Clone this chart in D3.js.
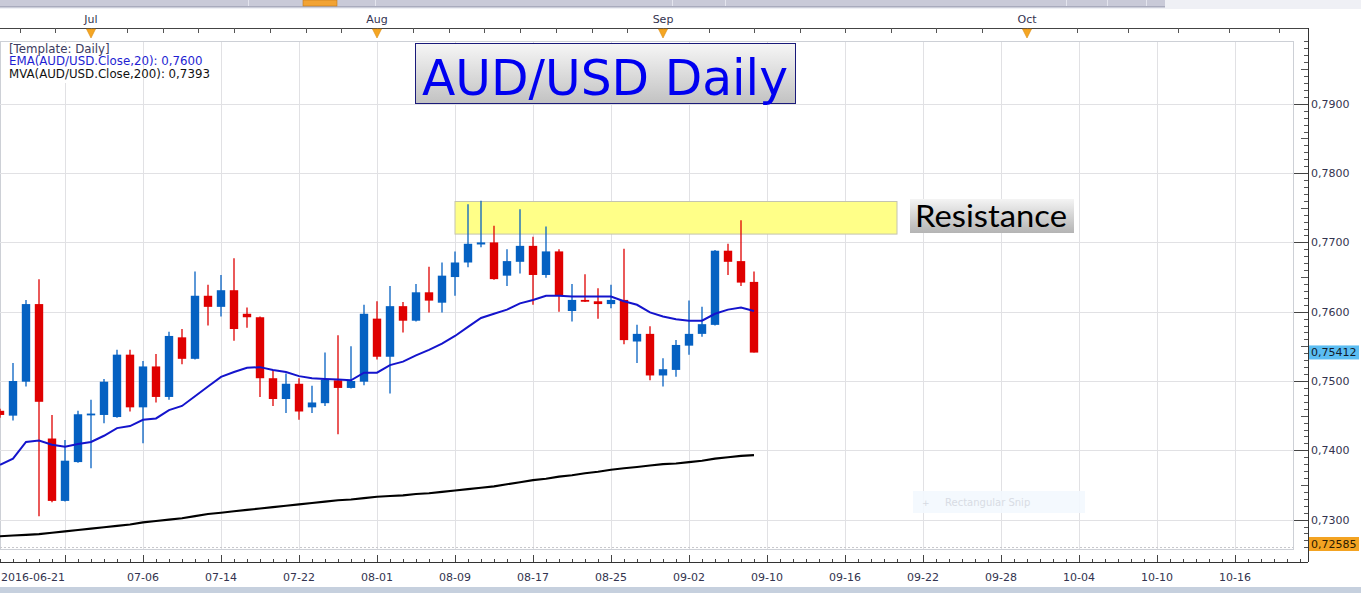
<!DOCTYPE html>
<html><head><meta charset="utf-8">
<script src="https://cdn.jsdelivr.net/npm/d3@7/dist/d3.min.js"></script>
<style>html,body{margin:0;padding:0;background:#fff;overflow:hidden}svg{display:block}</style>
</head><body>
<svg id="c" width="1361" height="593"></svg>
<script>
// ---------- DATA ----------
const dates = ["06-21","06-22","06-23","06-24","06-27","06-28","06-29","06-30","07-01","07-04",
"07-05","07-06","07-07","07-08","07-11","07-12","07-13","07-14","07-15","07-18",
"07-19","07-20","07-21","07-22","07-25","07-26","07-27","07-28","07-29","08-01",
"08-02","08-03","08-04","08-05","08-08","08-09","08-10","08-11","08-12","08-15",
"08-16","08-17","08-18","08-19","08-22","08-23","08-24","08-25","08-26","08-29",
"08-30","08-31","09-01","09-02","09-05","09-06","09-07","09-08","09-09"];
const open  = [0.7457,0.7450,0.7499,0.7611,0.7417,0.7327,0.7383,0.7451,0.7451,0.7448,
0.7538,0.7462,0.7521,0.7477,0.7563,0.7532,0.7623,0.7607,0.7631,0.7597,
0.7592,0.7504,0.7474,0.7496,0.7462,0.7468,0.7501,0.7490,0.7499,0.7590,
0.7535,0.7608,0.7587,0.7628,0.7613,0.7650,0.7671,0.7697,0.7700,0.7652,
0.7672,0.7695,0.7653,0.7687,0.7601,0.7617,0.7615,0.7611,0.7617,0.7557,
0.7568,0.7508,0.7516,0.7551,0.7568,0.7581,0.7688,0.7673,0.7643];
const high  = [0.7460,0.7526,0.7617,0.7647,0.7451,0.7415,0.7457,0.7473,0.7503,0.7545,
0.7545,0.7529,0.7539,0.7571,0.7575,0.7658,0.7639,0.7653,0.7677,0.7606,
0.7593,0.7516,0.7511,0.7504,0.7493,0.7541,0.7566,0.7550,0.7610,0.7615,
0.7637,0.7614,0.7640,0.7665,0.7671,0.7687,0.7755,0.7760,0.7724,0.7690,
0.7748,0.7708,0.7723,0.7690,0.7640,0.7654,0.7634,0.7639,0.7691,0.7581,
0.7579,0.7533,0.7559,0.7616,0.7607,0.7689,0.7698,0.7732,0.7658];
const low   = [0.7447,0.7443,0.7492,0.7305,0.7325,0.7326,0.7382,0.7374,0.7439,0.7447,
0.7456,0.7410,0.7469,0.7473,0.7524,0.7531,0.7580,0.7593,0.7558,0.7577,
0.7477,0.7464,0.7454,0.7444,0.7454,0.7464,0.7423,0.7489,0.7494,0.7531,
0.7482,0.7570,0.7586,0.7599,0.7599,0.7623,0.7664,0.7693,0.7646,0.7637,
0.7655,0.7610,0.7649,0.7600,0.7586,0.7614,0.7590,0.7605,0.7553,0.7526,
0.7501,0.7492,0.7506,0.7538,0.7564,0.7580,0.7653,0.7637,0.7541];
const close = [0.7451,0.7500,0.7611,0.7470,0.7327,0.7385,0.7452,0.7453,0.7499,0.7538,
0.7462,0.7521,0.7477,0.7565,0.7532,0.7623,0.7607,0.7631,0.7575,0.7592,
0.7504,0.7474,0.7496,0.7456,0.7469,0.7502,0.7490,0.7500,0.7597,0.7535,
0.7608,0.7587,0.7628,0.7616,0.7652,0.7671,0.7698,0.7700,0.7647,0.7673,
0.7695,0.7653,0.7687,0.7624,0.7617,0.7615,0.7611,0.7617,0.7559,0.7568,
0.7508,0.7517,0.7552,0.7568,0.7582,0.7688,0.7672,0.7642,0.7541];
const ema20 = [0.7379,0.7388,0.7412,0.7414,0.7408,0.7405,0.7409,0.7412,0.7421,0.7432,
0.7435,0.7444,0.7446,0.7458,0.7464,0.7478,0.7492,0.7506,0.7513,0.7519,
0.7520,0.7516,0.7513,0.7507,0.7504,0.7503,0.7502,0.7501,0.7512,0.7512,
0.7523,0.7528,0.7537,0.7545,0.7554,0.7565,0.7578,0.7591,0.7597,0.7603,
0.7612,0.7617,0.7623,0.7623,0.7622,0.7622,0.7622,0.7622,0.7615,0.7610,
0.7599,0.7593,0.7589,0.7587,0.7587,0.7597,0.7603,0.7606,0.7601];
const mva200 = [0.7276,0.7277,0.7278,0.7279,0.7281,0.7283,0.7285,0.7287,0.7289,0.7291,
0.7293,0.7296,0.7298,0.7300,0.7302,0.7305,0.7308,0.7310,0.7312,0.7314,
0.7316,0.7318,0.7320,0.7322,0.7324,0.7326,0.7328,0.7329,0.7331,0.7333,
0.7334,0.7335,0.7337,0.7338,0.7340,0.7342,0.7344,0.7346,0.7348,0.7351,
0.7354,0.7357,0.7359,0.7362,0.7364,0.7367,0.7369,0.7372,0.7374,0.7376,
0.7378,0.7380,0.7381,0.7383,0.7385,0.7388,0.7390,0.7392,0.7393];
const xTickIndex  = [0,11,17,23,29,35,41,47,53,59,65,71,77,83,89,95];
const xTickLabels = ["2016-06-21","07-06","07-14","07-22","08-01","08-09","08-17","08-25","09-02","09-10","09-16","09-22","09-28","10-04","10-10","10-16"];
const xGridIndex  = [5,11,17,23,29,35,41,47,53,59,65,71,77,83,89,95];
const yTicks      = [0.73,0.74,0.75,0.76,0.77,0.78,0.79];
const monthValues = [7,8,9,10];
const monthLabels = ["Jul","Aug","Sep","Oct"];
const resistanceZone = [0.7712,0.7759];
const resistanceSpan = [35,69];
const lastClose = 0.75412;
const lowMark   = 0.72585;
const legendLines = ["[Template: Daily]","EMA(AUD/USD.Close,20): 0,7600","MVA(AUD/USD.Close,200): 0,7393"];
const titleText = "AUD/USD Daily";
const resistanceText = "Resistance";

// ---------- LAYOUT ----------
const W = 1361, H = 593;
const P = {l:0, t:42, r:1293, b:549};
const axisX = 1308, axisBottomY = 562, topAxisY = 28;
const svg = d3.select("#c");
const x = d3.scaleLinear().domain([0,95]).range([0,1235]);
const y = d3.scaleLinear().domain([0.73,0.79]).range([519.6,103.8]);
const nav = d3.scaleLinear().domain([6,7,8,9,10,11]).range([-195,91,377,663,1027,1430]);
const fmt = v => d3.format(".4f")(v).replace(".",",");
const FONT = "'DejaVu Sans', Verdana, sans-serif";
const TXT = "#33334f";
const AXF = "11px";

const defs = svg.append("defs");
const g1 = defs.append("linearGradient").attr("id","gTitle").attr("x1",0).attr("y1",0).attr("x2",0).attr("y2",1);
g1.append("stop").attr("offset","0%").attr("stop-color","#f6f6f6");
g1.append("stop").attr("offset","100%").attr("stop-color","#c2c2c2");
const g2 = defs.append("linearGradient").attr("id","gRes").attr("x1",0).attr("y1",0).attr("x2",0).attr("y2",1);
g2.append("stop").attr("offset","0%").attr("stop-color","#f4f4f4");
g2.append("stop").attr("offset","100%").attr("stop-color","#b4b4b4");
defs.append("clipPath").attr("id","clip").append("rect")
  .attr("x",P.l).attr("y",P.t).attr("width",P.r-P.l).attr("height",P.b-P.t);

// top navigator bar
svg.append("rect").attr("x",0).attr("y",0).attr("width",W).attr("height",9).attr("fill","#eff0f5");
svg.append("rect").attr("x",0).attr("y",0).attr("width",1165).attr("height",7).attr("fill","#c9cad8");
svg.append("rect").attr("x",0).attr("y",6).attr("width",1165).attr("height",1.5).attr("fill","#a9abbd");
[248,375,672,725,1066,1107,1146].forEach(v=>svg.append("rect").attr("x",v).attr("y",0).attr("width",1).attr("height",6).attr("fill","#e4e5ee"));
svg.append("rect").attr("x",303).attr("y",0).attr("width",34).attr("height",6).attr("fill","#f2a334").attr("stroke","#c27a1a").attr("stroke-width",0.6);

// bottom band
svg.append("rect").attr("x",0).attr("y",587).attr("width",W).attr("height",6).attr("fill","#c6d0de");

// plot frame & grid
const plot = svg.append("g");
plot.append("rect").attr("x",P.l+0.5).attr("y",P.t-0.5).attr("width",P.r-P.l).attr("height",P.b-P.t+1)
  .attr("fill","#fff").attr("stroke","#cdd0d6");
plot.selectAll(".vg").data(xGridIndex).join("line")
  .attr("x1",d=>Math.round(x(d))+0.5).attr("x2",d=>Math.round(x(d))+0.5)
  .attr("y1",P.t).attr("y2",P.b).attr("stroke","#e1e1e4");
plot.selectAll(".hg").data(yTicks).join("line")
  .attr("x1",P.l).attr("x2",P.r).attr("y1",d=>Math.round(y(d))+0.5).attr("y2",d=>Math.round(y(d))+0.5)
  .attr("stroke","#e1e1e4");
plot.append("line").attr("x1",P.l).attr("x2",P.r).attr("y1",Math.round(y(lowMark))-0.5).attr("y2",Math.round(y(lowMark))-0.5)
  .attr("stroke","#c8c8cc").attr("stroke-dasharray","2,2");

// legend backdrop + legend
svg.append("rect").attr("x",1).attr("y",43).attr("width",112).attr("height",40).attr("fill","#fff");
const legColors = ["#3c3c60","#1e1ed2","#111"];
legendLines.forEach((t,i)=>svg.append("text").attr("x",9).attr("y",52.5+i*12.8)
  .attr("font-family",FONT).attr("font-size","11.8px").attr("fill",legColors[i]).text(t));

// resistance zone
const cg = svg.append("g").attr("clip-path","url(#clip)");
cg.append("rect").attr("x",x(resistanceSpan[0])).attr("y",y(resistanceZone[1]))
  .attr("width",x(resistanceSpan[1])-x(resistanceSpan[0])).attr("height",y(resistanceZone[0])-y(resistanceZone[1]))
  .attr("fill","#ffff88").attr("stroke","#c4c4b0").attr("stroke-width",1);

// moving averages
const line = arr => d3.line().x((d,i)=>x(i)).y(d=>y(d))(arr);
cg.append("path").attr("d",line(mva200)).attr("fill","none").attr("stroke","#000").attr("stroke-width",2.1);
// candles
const idx = d3.range(dates.length);
const col = i => close[i] >= open[i] ? "#0561c2" : "#df0000";
cg.selectAll(".wick").data(idx).join("line")
  .attr("x1",i=>x(i)).attr("x2",i=>x(i)).attr("y1",i=>y(high[i])).attr("y2",i=>y(low[i]))
  .attr("stroke",col).attr("stroke-width",1.3);
cg.selectAll(".body").data(idx).join("rect")
  .attr("x",i=>x(i)-4.2).attr("width",8.4)
  .attr("y",i=>y(Math.max(open[i],close[i])))
  .attr("height",i=>Math.max(1.8, Math.abs(y(open[i])-y(close[i]))))
  .attr("fill",col);
cg.append("path").attr("d",line(ema20)).attr("fill","none").attr("stroke","#1414cc").attr("stroke-width",2);

// right axis
const ra = svg.append("g");
ra.append("line").attr("x1",axisX+0.5).attr("x2",axisX+0.5).attr("y1",topAxisY).attr("y2",axisBottomY).attr("stroke","#333");
const minor = d3.range(0.726,0.7995,0.001).map(v=>+v.toFixed(3));
ra.selectAll(".mt").data(minor).join("line")
  .attr("x1",v=>{const k=Math.round(v*1000)%10; return k===0? axisX-14 : (k===5? axisX-7 : axisX-4);})
  .attr("x2",axisX).attr("y1",v=>Math.round(y(v))+0.5).attr("y2",v=>Math.round(y(v))+0.5)
  .attr("stroke",v=>Math.round(v*1000)%10===0?"#444":"#555");
ra.selectAll(".yl").data(yTicks).join("text").attr("x",axisX+3).attr("y",d=>y(d)+4)
  .attr("font-family",FONT).attr("font-size",AXF).attr("fill",TXT).text(fmt);
// price tags
function tag(v,bg,fg,digits,clampY){
  const yy = Math.min(y(v), clampY);
  ra.append("rect").attr("x",axisX+1).attr("y",yy-7).attr("width",50).attr("height",14).attr("fill",bg);
  ra.append("text").attr("x",axisX+3).attr("y",yy+4).attr("font-family",FONT).attr("font-size",AXF)
    .attr("fill",fg).text(d3.format("."+digits+"f")(v).replace(".",","));
}
tag(lastClose,"#5bbdf2","#111a2a",5,999);
tag(lowMark,"#f3a322","#2a1a00",5,544);

// bottom axis
const ba = svg.append("g");
ba.append("line").attr("x1",0).attr("x2",axisX).attr("y1",axisBottomY+0.5).attr("y2",axisBottomY+0.5).attr("stroke","#333");
const bt = d3.range(0,101);
ba.selectAll(".bt").data(bt).join("line")
  .attr("x1",i=>Math.round(x(i))+0.5).attr("x2",i=>Math.round(x(i))+0.5)
  .attr("y1",i=>((i-5)%6===0)? axisBottomY-7 : axisBottomY-3).attr("y2",axisBottomY)
  .attr("stroke","#444");
ba.selectAll(".bl").data(xTickIndex).join("text")
  .attr("x",(d,i)=> i===0 ? 1 : x(d)).attr("text-anchor",(d,i)=> i===0?"start":"middle")
  .attr("y",581).attr("font-family",FONT).attr("font-size",AXF).attr("fill",TXT)
  .text((d,i)=>xTickLabels[i]);

// top axis
const ta = svg.append("g");
ta.append("line").attr("x1",0).attr("x2",axisX).attr("y1",topAxisY+0.5).attr("y2",topAxisY+0.5).attr("stroke","#444");
const navTicks = [];
for(let m=6;m<11;m++) for(let j=0;j<8;j++) navTicks.push(m+j/8);
ta.selectAll(".tt").data(navTicks.filter(v=>nav(v)>=0 && nav(v)<axisX)).join("line")
  .attr("x1",v=>Math.round(nav(v))+0.5).attr("x2",v=>Math.round(nav(v))+0.5)
  .attr("y1",topAxisY).attr("y2",topAxisY+5).attr("stroke","#555");
ta.selectAll(".ml").data(monthValues).join("text").attr("x",v=>nav(v)).attr("y",23)
  .attr("text-anchor","middle").attr("font-family",FONT).attr("font-size",AXF).attr("fill",TXT)
  .text((v,i)=>monthLabels[i]);
ta.selectAll(".mk").data(monthValues).join("path")
  .attr("d",v=>{const c=nav(v); return `M${c-4.5},${topAxisY+1}L${c+4.5},${topAxisY+1}L${c},${topAxisY+10}Z`;})
  .attr("fill","#f5a623").attr("stroke","#d88a10").attr("stroke-width",0.6);

// title box
svg.append("rect").attr("x",415.5).attr("y",43.5).attr("width",380).attr("height",60)
  .attr("fill","url(#gTitle)").attr("stroke","#1a1a7a").attr("stroke-width",1);
svg.append("text").attr("x",605).attr("y",95).attr("text-anchor","middle")
  .attr("font-family",FONT).attr("font-size","50px").attr("fill","#0000f0")
  .attr("textLength",366).attr("lengthAdjust","spacingAndGlyphs").text(titleText);

// resistance label
svg.append("rect").attr("x",910).attr("y",199).attr("width",164).attr("height",34).attr("fill","url(#gRes)");
svg.append("text").attr("x",991).attr("y",227).attr("text-anchor","middle")
  .attr("font-family","Lato, 'Open Sans', sans-serif").attr("font-size","31px").attr("fill","#000")
  .attr("textLength",152).attr("lengthAdjust","spacingAndGlyphs").text(resistanceText);

// faint snip overlay
svg.append("rect").attr("x",913).attr("y",491).attr("width",172).attr("height",22).attr("fill","#f3f8fe").attr("opacity",0.9);
svg.append("text").attr("x",922).attr("y",506).attr("font-family",FONT).attr("font-size","9px").attr("fill","#d6dae2").text("+");
svg.append("text").attr("x",945).attr("y",506).attr("font-family",FONT).attr("font-size","10px").attr("fill","#d8dce4").text("Rectangular Snip");
</script>
</body></html>
